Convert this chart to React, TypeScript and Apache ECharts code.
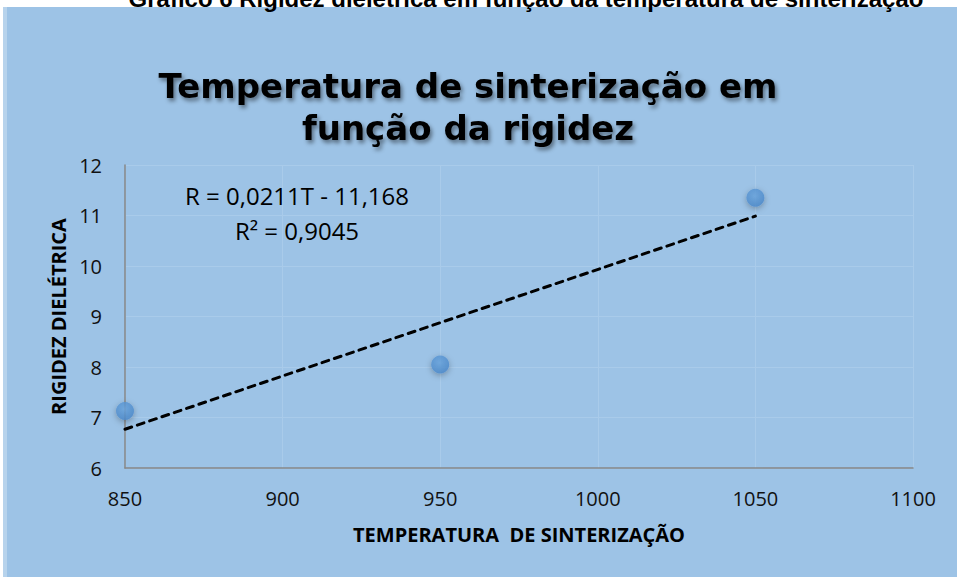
import React, { useEffect, useRef } from "react";
import * as echarts from "echarts";

const temperatures = [850, 950, 1050];
const rigidity = [7.13, 8.05, 11.35];
const trendX = [850, 1050];
const trendY = [6.767, 10.987];
const xTicks = { min: 850, max: 1100, interval: 50 };
const yTicks = { min: 6, max: 12, interval: 1 };
const chartTitle = "Temperatura de sinterização em\nfunção da rigidez";
const captionText = "Gráfico 6 Rigidez dielétrica em função da temperatura de sinterização";
const equationText = "R = 0,0211T - 11,168";
const r2Text = "R² = 0,9045";
const xName = "TEMPERATURA  DE SINTERIZAÇÃO";
const yName = "RIGIDEZ DIELÉTRICA";

export default function App() {
  const ref = useRef<HTMLDivElement>(null);
  useEffect(() => {
    if (!ref.current) return;
    const chart = echarts.init(ref.current, null, { renderer: "svg" });
    const bg = "#9DC3E6";
    chart.setOption({
      animation: false,
      backgroundColor: bg,
      grid: { left: 125, right: 44, top: 165, bottom: 109, containLabel: false },
      graphic: [
        { type: "rect", z: 100, shape: { x: 0, y: 0, width: 957, height: 7 }, style: { fill: "#ffffff" } },
        { type: "rect", z: 100, shape: { x: 0, y: 0, width: 3, height: 577 }, style: { fill: "#ffffff" } },
        { type: "rect", z: 100, shape: { x: 3, y: 7, width: 4, height: 570 }, style: { fill: "#B7D3EC" } },
        {
          type: "text", z: 101, x: 526, y: 10,
          style: { text: captionText, fontFamily: "Liberation Sans", fontWeight: "bold", fontSize: 24, fill: "#000", align: "center", verticalAlign: "bottom" },
        },
        {
          type: "text", z: 50, x: 468, y: 65,
          style: {
            text: chartTitle, fontFamily: "DejaVu Sans", fontWeight: "bold", fontSize: 34, lineHeight: 42,
            fill: "#000", align: "center", verticalAlign: "top",
            textShadowColor: "rgba(0,0,0,0.45)", textShadowBlur: 4, textShadowOffsetX: 2, textShadowOffsetY: 3,
          },
        },
        {
          type: "text", z: 50, x: 297, y: 195,
          style: { text: equationText, fontFamily: "Open Sans", fontSize: 24, fill: "#000", align: "center", verticalAlign: "middle" },
        },
        {
          type: "text", z: 50, x: 297, y: 230,
          style: { text: r2Text, fontFamily: "Open Sans", fontSize: 24, fill: "#000", align: "center", verticalAlign: "middle" },
        },
      ],
      xAxis: {
        type: "value",
        min: xTicks.min, max: xTicks.max, interval: xTicks.interval,
        name: xName, nameLocation: "middle", nameGap: 56,
        nameTextStyle: { fontFamily: "Open Sans", fontWeight: "bold", fontSize: 20, color: "#000" },
        axisLine: { show: true, lineStyle: { color: "#878787", width: 1.5 } },
        axisTick: { show: false },
        axisLabel: { margin: 20, fontFamily: "Open Sans", fontSize: 20, color: "#111", formatter: (v: number) => String(v) },
        splitLine: { show: true, lineStyle: { color: "#A9CBEA", width: 1 } },
      },
      yAxis: {
        type: "value",
        min: yTicks.min, max: yTicks.max, interval: yTicks.interval,
        name: yName, nameLocation: "middle", nameGap: 57, nameRotate: 90,
        nameTextStyle: { fontFamily: "Open Sans", fontWeight: "bold", fontSize: 20, color: "#000" },
        axisLine: { show: true, lineStyle: { color: "#878787", width: 1.5 } },
        axisTick: { show: false },
        axisLabel: { margin: 23, fontFamily: "Open Sans", fontSize: 20, color: "#111" },
        splitLine: { show: true, lineStyle: { color: "#A9CBEA", width: 1 } },
      },
      series: [
        {
          type: "line",
          data: trendX.map((x, i) => [x, trendY[i]]),
          symbol: "none",
          lineStyle: { color: "#000", width: 3, type: [7, 6], cap: "round" },
          z: 2,
        },
        {
          type: "scatter",
          data: temperatures.map((t, i) => [t, rigidity[i]]),
          symbol: "circle",
          symbolSize: 18,
          itemStyle: {
            color: new echarts.graphic.RadialGradient(0.45, 0.4, 0.6, [
              { offset: 0, color: "#6AA6E0" },
              { offset: 1, color: "#4A88CA" },
            ]),
            shadowBlur: 6,
            shadowColor: "rgba(0,0,0,0.35)",
            shadowOffsetY: 2,
          },
          z: 3,
        },
      ],
    });
    return () => chart.dispose();
  }, []);
  return <div ref={ref} style={{ position: "fixed", left: 0, top: 0, width: 957, height: 577 }} />;
}
